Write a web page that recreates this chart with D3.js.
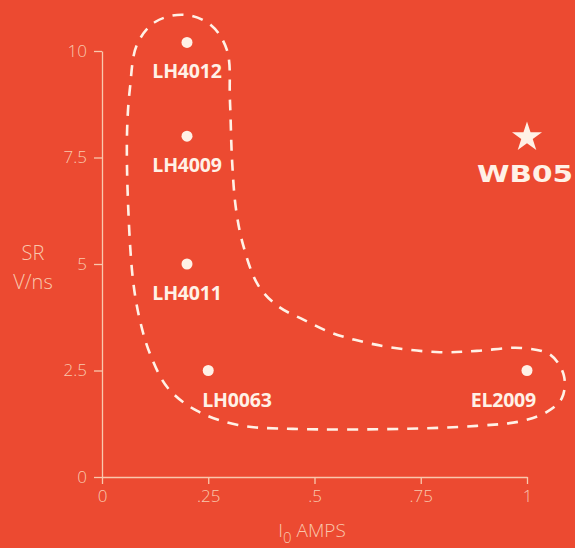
<!DOCTYPE html>
<html>
<head>
<meta charset="utf-8">
<script src="https://cdn.jsdelivr.net/npm/d3@7"></script>
<style>
  html, body { margin: 0; padding: 0; background: #ec4a31; }
  svg { display: block; }
</style>
</head>
<body>
<svg id="chart" width="575" height="548"></svg>
<script>
// ---- data ----
const partNames = ["LH4012", "LH4009", "LH4011", "LH0063", "EL2009"];
const currentAmps = [0.2, 0.2, 0.2, 0.25, 1.0];
const slewRates = [10.2, 8.0, 5.0, 2.5, 2.5];
const starName = "WB05";
const starAmps = 1.0;
const starSlew = 8.0;
const xTicks = [0, 0.25, 0.5, 0.75, 1];
const xTickLabels = ["0", ".25", ".5", ".75", "1"];
const yTicks = [0, 2.5, 5, 7.5, 10];
const yTickLabels = ["0", "2.5", "5", "7.5", "10"];
// enclosing dashed outline, in data units (amps, V/ns)
const outlineAmps = [0.193, 0.256, 0.294, 0.301, 0.306, 0.315, 0.332, 0.367, 0.414, 0.475, 0.536, 0.595, 0.675, 0.795, 0.882, 0.986, 1.056, 1.087, 1.082, 1.047, 0.986, 0.882, 0.708, 0.449, 0.320, 0.224, 0.155, 0.113, 0.089, 0.073, 0.061, 0.059, 0.066, 0.082, 0.125];
const outlineSlew = [10.85, 10.61, 10.02, 8.85, 7.44, 6.31, 5.45, 4.51, 4.01, 3.69, 3.40, 3.22, 3.05, 2.93, 2.96, 3.03, 2.86, 2.37, 1.85, 1.53, 1.31, 1.20, 1.13, 1.13, 1.22, 1.55, 2.09, 2.89, 3.69, 4.62, 6.50, 8.12, 9.15, 10.14, 10.68];

// ---- styling ----
const BG = "#ec4a31";
const AXIS = "#f9c8ad";
const MARK = "#fff1e6";
const lightFont = "'Open Sans', sans-serif";

const svg = d3.select("#chart");
svg.append("rect").attr("width", 575).attr("height", 548).attr("fill", BG);

const x = d3.scaleLinear().domain([0, 1]).range([102, 527]);
const y = d3.scaleLinear().domain([0, 10]).range([477, 51]);

// axes
const yAxis = d3.axisLeft(y).tickValues(yTicks)
  .tickFormat((d, i) => yTickLabels[i]).tickSize(8).tickSizeOuter(0).tickPadding(7);
const xAxis = d3.axisBottom(x).tickValues(xTicks)
  .tickFormat((d, i) => xTickLabels[i]).tickSize(7).tickSizeOuter(0).tickPadding(6);

const gy = svg.append("g").attr("transform", "translate(102,0)").call(yAxis);
const gx = svg.append("g").attr("transform", "translate(0,477)").call(xAxis);
[gx, gy].forEach(g => {
  g.select(".domain").attr("stroke", AXIS).attr("stroke-width", 1.3);
  g.selectAll(".tick line").attr("stroke", AXIS).attr("stroke-width", 1.3);
  g.selectAll(".tick text").attr("fill", AXIS)
    .style("font-family", lightFont).style("font-weight", 300).style("font-size", "17px");
});

// axis titles
const yt = svg.append("text").attr("text-anchor", "middle")
  .attr("fill", AXIS).style("font-family", lightFont).style("font-weight", 300).style("font-size", "20px");
yt.append("tspan").attr("x", 33).attr("y", 260).text("SR");
yt.append("tspan").attr("x", 33).attr("y", 289).text("V/ns");

const xt = svg.append("text").attr("x", 312).attr("y", 537).attr("text-anchor", "middle")
  .attr("fill", AXIS).style("font-family", lightFont).style("font-weight", 300).style("font-size", "19px");
xt.append("tspan").text("I");
xt.append("tspan").attr("dy", 6).style("font-size", "15px").text("0");
xt.append("tspan").attr("dy", -6).text(" AMPS");

// dashed outline
const outline = outlineAmps.map((a, i) => [a, outlineSlew[i]]);
const line = d3.line().x(d => x(d[0])).y(d => y(d[1])).curve(d3.curveCatmullRomClosed.alpha(0.5));
svg.append("path").attr("d", line(outline))
  .attr("fill", "none").attr("stroke", MARK).attr("stroke-width", 2.6)
  .attr("stroke-dasharray", "11,9");

// points
const pts = partNames.map((n, i) => ({ name: n, a: currentAmps[i], s: slewRates[i] }));
svg.selectAll("circle.pt").data(pts).enter().append("circle")
  .attr("class", "pt").attr("cx", d => x(d.a)).attr("cy", d => y(d.s)).attr("r", 5.5).attr("fill", MARK);

const anchorFor = d => d.name === "LH0063" ? "start" : d.name === "EL2009" ? "end" : "middle";
const dxFor = d => d.name === "LH0063" ? -6 : d.name === "EL2009" ? 9 : 0;
svg.selectAll("text.lbl").data(pts).enter().append("text")
  .attr("class", "lbl")
  .attr("x", d => x(d.a) + dxFor(d))
  .attr("y", d => y(d.s) + 36)
  .attr("text-anchor", anchorFor)
  .attr("fill", MARK)
  .style("font-family", "'Open Sans', sans-serif").style("font-weight", 700).style("font-size", "19.5px")
  .style("letter-spacing", "-0.2px")
  .text(d => d.name);

// star marker
svg.append("path")
  .attr("d", d3.symbol().type(d3.symbolStar).size(280)())
  .attr("transform", `translate(${x(starAmps)},${y(starSlew) + 1})`)
  .attr("fill", MARK);
svg.append("text")
  .attr("x", x(starAmps) - 50).attr("y", y(starSlew) + 46)
  .attr("textLength", 96).attr("lengthAdjust", "spacingAndGlyphs")
  .attr("fill", MARK)
  .style("font-family", "'DejaVu Sans', sans-serif").style("font-weight", 700).style("font-size", "23px")
  .text(starName);
</script>
</body>
</html>
